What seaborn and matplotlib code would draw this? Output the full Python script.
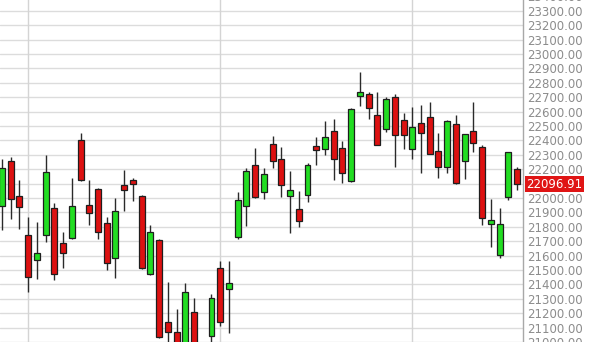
import numpy as np
import pandas as pd
import matplotlib
matplotlib.use("Agg")
import matplotlib.pyplot as plt
import matplotlib.transforms as mtransforms
import seaborn as sns

# ---- data ----
opens = [21945, 22255, 22012, 21741, 21567, 21741, 21931, 21688, 21720, 22403,
         21951, 22062, 21824, 21581, 22090, 22123, 22014, 21474, 21708, 21137,
         21069, 20980, 21210, 20900, 21044, 21516, 21370, 21731, 21944, 22227,
         22044, 22377, 22273, 22014, 21922, 22019, 22361, 22338, 22467, 22347,
         22116, 22708, 22720, 22574, 22481, 22703, 22542, 22338, 22523, 22560,
         22326, 22217, 22514, 22255, 22467, 22356, 21817, 21604, 22009, 22203]
highs = [22270, 22283, 22125, 21866, 21835, 22299, 21963, 21766, 22137, 22453,
         22125, 22069, 21870, 22002, 22194, 22137, 22021, 21813, 21715, 21415,
         21227, 21408, 21308, 20980, 21333, 21565, 21563, 22040, 22208, 22349,
         22206, 22431, 22356, 22190, 22047, 22241, 22426, 22537, 22547, 22394,
         22625, 22877, 22738, 22734, 22703, 22720, 22592, 22630, 22646, 22667,
         22449, 22540, 22576, 22447, 22667, 22368, 21995, 21928, 22320, 22213]
lows = [21780, 21852, 21783, 21349, 21435, 21694, 21431, 21512, 21715, 22120,
        21813, 21715, 21500, 21442, 21912, 21981, 21507, 21465, 21026, 20980,
        20950, 20950, 20930, 20850, 20990, 21113, 21063, 21715, 21808, 22000,
        21991, 22206, 22005, 21755, 21801, 21974, 22229, 22299, 22125, 22102,
        22111, 22639, 22547, 22368, 22458, 22213, 22338, 22269, 22172, 22305,
        22141, 22172, 22100, 22132, 22322, 21813, 21662, 21585, 21986, 22056]
closes = [22210, 21991, 21935, 21453, 21620, 22181, 21474, 21620, 21947, 22125,
          21898, 21762, 21551, 21910, 22056, 22095, 21512, 21766, 21037, 21072,
          20990, 21347, 20960, 20920, 21303, 21141, 21408, 21986, 22188, 22007,
          22165, 22255, 22088, 22053, 21838, 22227, 22331, 22422, 22269, 22172,
          22620, 22738, 22627, 22368, 22688, 22435, 22435, 22491, 22453, 22308,
          22217, 22537, 22102, 22444, 22384, 21863, 21847, 21819, 22317, 22096.91]
last_price = 22096.91
month_marks = [3, 25, 47]
price_ticks = list(range(21000, 23401, 100))

df = pd.DataFrame({"open": opens, "high": highs, "low": lows, "close": closes})
df["idx"] = np.arange(len(df))
df["up"] = df["close"] >= df["open"]

sns.set_style("white")
plt.rcParams["font.family"] = ["DejaVu Sans"]

W, H = 590, 342
fig = plt.figure(figsize=(W / 100, H / 100), dpi=100)
fig.patch.set_facecolor("white")
ax_h = (23400 - 21000) * 0.144 / H
ax = fig.add_axes([0, 0, 523.3 / W, ax_h])
ax.set_facecolor("white")

ax.set_ylim(21000, 23400)
ax.set_xlim(-0.227, 59.72)

# grid
for p in price_ticks:
    ax.axhline(p, color="#dcdcdc", lw=1.0, zorder=0)
for m in month_marks:
    ax.axvline(m, color="#d4d4d4", lw=1.0, zorder=0)

# wicks
ax.vlines(df["idx"], df["low"], df["high"], color="#2a2a2a", lw=1.0, zorder=2)

# bodies
green = "#22dd22"
red = "#dd1111"
body_bottom = np.minimum(df["open"], df["close"])
body_h = np.abs(df["close"] - df["open"])
colors = [green if u else red for u in df["up"]]
ax.bar(df["idx"], body_h, bottom=body_bottom, width=0.68, color=colors,
       edgecolor="#1e1e1e", linewidth=0.9, zorder=3)

# axes styling
for s in ["top", "bottom", "left"]:
    ax.spines[s].set_visible(False)
ax.spines["right"].set_color("#a8a8a8")
ax.spines["right"].set_linewidth(1.0)
ax.set_xticks([])
ax.yaxis.tick_right()
ax.set_yticks(price_ticks)
ax.set_yticklabels([f"{p:.2f}" for p in price_ticks])
ax.tick_params(axis="y", length=0, pad=2.4, labelsize=8.5, labelcolor="#8c8c8c")

# current price label
trans = mtransforms.blended_transform_factory(ax.transAxes, ax.transData)
ax.text(1.0 + 3.0 / 523.3, last_price, f"{last_price:.2f}", transform=trans,
        ha="left", va="center", fontsize=8.5, color="white", clip_on=False,
        zorder=10,
        bbox=dict(boxstyle="square,pad=0.12", facecolor="#e01515",
                  edgecolor="none"))

fig.savefig("out.png", dpi=100, facecolor="white")
